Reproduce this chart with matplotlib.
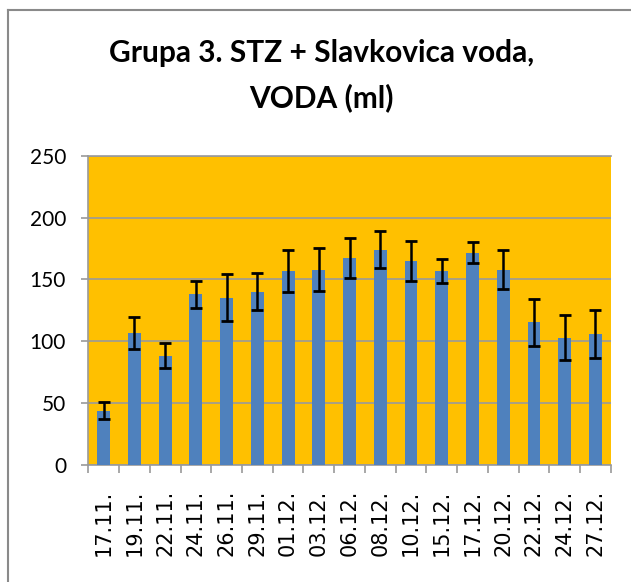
import matplotlib.pyplot as plt
from matplotlib.lines import Line2D
import numpy as np

# dates (dd.mm.) and mean water intake (ml) with error
dates = ['17.11.', '19.11.', '22.11.', '24.11.', '26.11.', '29.11.', '01.12.',
         '03.12.', '06.12.', '08.12.', '10.12.', '15.12.', '17.12.', '20.12.',
         '22.12.', '24.12.', '27.12.']
voda = [44, 107, 88.5, 138, 135, 140, 157, 158, 167.5, 174, 165, 157, 171.5,
        158, 115.5, 103, 106]
greska = [7, 13, 10, 11, 19, 15, 17, 17.5, 16, 15, 16, 9.5, 8.5, 15.5, 19, 18, 19.5]

fig = plt.figure(figsize=(6.31, 5.82), dpi=100)
ax = fig.add_axes([0.140, 0.201, 0.828, 0.5315])

x = np.arange(len(dates))
ax.set_facecolor('#FFC000')
ax.bar(x, voda, width=0.42, color='#4F81BD', zorder=3)
ax.errorbar(x, voda, yerr=greska, fmt='none', ecolor='black', elinewidth=1.8,
            capsize=4.3, capthick=2, zorder=4)

ax.set_xlim(-0.5, len(dates) - 0.5)
ax.set_ylim(0, 250)
ax.set_yticks(range(0, 251, 50))
ax.yaxis.grid(True, color='#9a9a9a', linewidth=1.2, zorder=1)
ax.set_axisbelow(True)

ax.set_xticks(x)
ax.set_xticklabels(dates, rotation=90, fontsize=15, family='DejaVu Sans')
ax.set_xticks(np.arange(-0.5, len(dates), 1), minor=True)
ax.tick_params(axis='x', which='major', length=0, pad=18)
ax.tick_params(axis='x', which='minor', length=6, color='#9a9a9a', width=1.2)
ax.tick_params(axis='y', length=5, color='#9a9a9a', width=1.2, pad=11)
for lab in ax.get_yticklabels():
    lab.set_fontsize(15)
    lab.set_family('Lato')

for side in ['left', 'bottom', 'top']:
    ax.spines[side].set_color('#9a9a9a')
    ax.spines[side].set_linewidth(1.2)
ax.spines['right'].set_visible(False)

fig.text(0.51, 0.87, 'Grupa 3. STZ + Slavkovica voda,\nVODA (ml)', ha='center',
         va='center', fontsize=21.5, fontweight='bold', family='Lato',
         linespacing=1.7)

# chart border
fig.add_artist(Line2D([8 / 631, 8 / 631], [0, 1 - 10 / 582], transform=fig.transFigure,
                      color='#8a8a8a', linewidth=1.5))
fig.add_artist(Line2D([8 / 631, 1], [1 - 10 / 582, 1 - 10 / 582], transform=fig.transFigure,
                      color='#8a8a8a', linewidth=1.5))

fig.savefig('out.png', dpi=100)
